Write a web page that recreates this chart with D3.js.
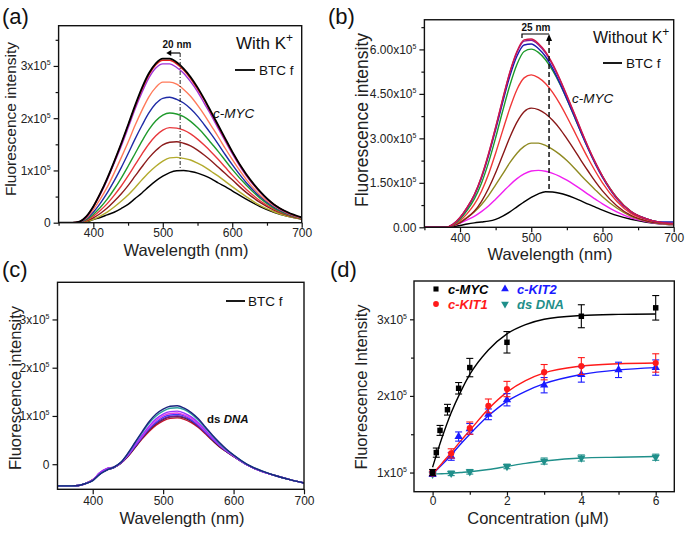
<!DOCTYPE html>
<html><head><meta charset="utf-8">
<script src="https://cdn.jsdelivr.net/npm/d3@7"></script>
<style>
body{margin:0;background:#fff;}
svg{display:block;font-family:Arial,"Liberation Sans",sans-serif;}
</style>
</head><body>
<svg id="c" width="685" height="534"></svg>
<script>
// ---------- DATA ----------
const wl = [350,370,380,390,400,410,420,430,440,450,460,470,480,490,500,510,520,530,540,550,560,570,580,590,600,620,640,660,680,700];

// Panel (a) with K+ (x1e5)
const aBlackTop = [0,0,0.02,0.12,0.31,0.56,0.85,1.17,1.51,1.87,2.24,2.58,2.86,3.05,3.14,3.14,3.07,2.95,2.79,2.59,2.36,2.11,1.86,1.61,1.36,0.93,0.60,0.35,0.20,0.10];
const aRed      = [0,0,0.02,0.12,0.31,0.56,0.84,1.16,1.50,1.86,2.22,2.55,2.83,3.02,3.11,3.11,3.04,2.92,2.76,2.56,2.34,2.09,1.84,1.59,1.35,0.92,0.59,0.35,0.19,0.10];
const aPurple   = [0,0,0.02,0.11,0.30,0.54,0.82,1.14,1.46,1.81,2.17,2.49,2.77,2.96,3.04,3.04,2.97,2.86,2.70,2.51,2.28,2.05,1.80,1.56,1.32,0.90,0.58,0.34,0.19,0.10];
const aCoral    = [0,0,0.015,0.09,0.25,0.45,0.68,0.95,1.24,1.54,1.86,2.15,2.41,2.59,2.69,2.69,2.65,2.55,2.42,2.25,2.06,1.85,1.64,1.42,1.21,0.83,0.53,0.32,0.18,0.09];
const aBlue     = [0,0,0.012,0.077,0.20,0.37,0.57,0.80,1.05,1.32,1.60,1.86,2.10,2.28,2.38,2.40,2.36,2.29,2.18,2.04,1.87,1.69,1.50,1.30,1.11,0.77,0.50,0.30,0.17,0.09];
const aGreen    = [0,0,0.009,0.059,0.157,0.29,0.45,0.64,0.85,1.08,1.32,1.56,1.78,1.95,2.06,2.10,2.08,2.03,1.94,1.82,1.68,1.52,1.36,1.19,1.02,0.72,0.47,0.28,0.16,0.08];
const aRed2     = [0,0,0.007,0.047,0.125,0.234,0.365,0.524,0.697,0.894,1.105,1.314,1.507,1.663,1.773,1.82,1.81,1.77,1.70,1.60,1.48,1.35,1.21,1.06,0.91,0.64,0.42,0.26,0.15,0.08];
const aBrown    = [0,0,0.005,0.035,0.094,0.177,0.28,0.41,0.55,0.71,0.89,1.07,1.24,1.38,1.49,1.54,1.55,1.52,1.47,1.39,1.29,1.18,1.06,0.94,0.82,0.58,0.39,0.24,0.14,0.07];
const aOlive    = [0,0,0.004,0.025,0.066,0.128,0.203,0.30,0.41,0.53,0.67,0.82,0.96,1.08,1.18,1.24,1.25,1.23,1.20,1.14,1.07,0.98,0.89,0.79,0.69,0.50,0.33,0.21,0.12,0.07];
const aBlackBase= [0,0,0.002,0.014,0.06,0.10,0.15,0.20,0.27,0.35,0.46,0.57,0.69,0.80,0.89,0.96,0.995,1.0,0.98,0.95,0.90,0.84,0.76,0.69,0.61,0.45,0.31,0.20,0.12,0.07];

// Panel (b) without K+ (x1e5)
const bCrimson = [0,0,0,0.10,0.33,0.67,1.10,1.70,2.48,3.38,4.34,5.24,5.94,6.32,6.35,6.20,5.92,5.51,5.01,4.45,3.87,3.28,2.71,2.19,1.73,1.00,0.53,0.30,0.17,0.12];
const bPurple  = [0,0,0,0.10,0.33,0.67,1.09,1.69,2.46,3.36,4.31,5.21,5.90,6.28,6.31,6.16,5.88,5.48,4.98,4.42,3.85,3.26,2.69,2.18,1.72,0.99,0.53,0.30,0.17,0.13];
const bBlue    = [0,0,0,0.10,0.32,0.65,1.07,1.65,2.41,3.29,4.22,5.10,5.78,6.15,6.18,6.03,5.76,5.36,4.87,4.33,3.77,3.19,2.64,2.13,1.68,0.97,0.52,0.30,0.18,0.18];
const bGreen   = [0,0,0,0.08,0.27,0.57,0.95,1.48,2.18,3.02,3.93,4.79,5.50,5.93,6.01,5.90,5.65,5.29,4.84,4.32,3.76,3.20,2.66,2.16,1.72,1.01,0.54,0.30,0.17,0.12];
const bRed     = [0,0,0,0.07,0.22,0.46,0.77,1.21,1.79,2.50,3.27,4.02,4.65,5.04,5.14,5.05,4.85,4.55,4.17,3.73,3.26,2.78,2.32,1.89,1.50,0.88,0.47,0.27,0.16,0.11];
const bBrown   = [0,0,0,0.05,0.15,0.32,0.54,0.87,1.31,1.84,2.44,3.04,3.55,3.90,4.02,3.97,3.83,3.61,3.33,2.99,2.63,2.25,1.89,1.54,1.23,0.73,0.40,0.23,0.14,0.10];
const bOlive   = [0,0,0,0.06,0.18,0.34,0.52,0.76,1.07,1.43,1.80,2.18,2.50,2.73,2.84,2.84,2.76,2.63,2.46,2.25,2.01,1.75,1.50,1.26,1.03,0.65,0.37,0.22,0.13,0.09];
const bMagenta = [0,0,0,0.05,0.14,0.25,0.37,0.53,0.72,0.95,1.19,1.43,1.64,1.80,1.90,1.92,1.89,1.82,1.72,1.59,1.44,1.28,1.11,0.95,0.79,0.52,0.32,0.20,0.12,0.09];
const bBlack   = [0,0,0,0.02,0.06,0.11,0.15,0.18,0.21,0.27,0.38,0.52,0.69,0.86,1.01,1.13,1.20,1.19,1.15,1.08,0.99,0.89,0.78,0.68,0.58,0.40,0.27,0.18,0.12,0.09];

// Panel (c) ds DNA (x1e5)
const cNavy    = [-0.45,-0.45,-0.44,-0.40,-0.34,-0.21,-0.12,-0.06,0.04,0.23,0.45,0.67,0.88,1.04,1.14,1.20,1.21,1.16,1.07,0.94,0.77,0.60,0.45,0.31,0.19,-0.01,-0.14,-0.24,-0.32,-0.39];
const cTeal    = [-0.45,-0.45,-0.44,-0.40,-0.34,-0.21,-0.12,-0.06,0.04,0.22,0.44,0.65,0.85,1.00,1.10,1.16,1.17,1.13,1.04,0.91,0.75,0.59,0.43,0.30,0.19,-0.01,-0.14,-0.24,-0.32,-0.39];
const cViolet  = [-0.45,-0.45,-0.44,-0.40,-0.33,-0.18,-0.09,-0.06,0.03,0.20,0.40,0.60,0.79,0.94,1.04,1.09,1.10,1.06,0.98,0.86,0.71,0.55,0.41,0.29,0.18,-0.02,-0.15,-0.24,-0.32,-0.39];
const cMagenta = [-0.45,-0.45,-0.44,-0.40,-0.33,-0.18,-0.09,-0.06,0.03,0.19,0.39,0.58,0.76,0.90,1.00,1.05,1.06,1.02,0.95,0.83,0.69,0.54,0.40,0.28,0.17,-0.02,-0.15,-0.24,-0.32,-0.39];
const cBlue    = [-0.45,-0.45,-0.44,-0.40,-0.33,-0.20,-0.12,-0.07,0.03,0.18,0.37,0.56,0.74,0.87,0.97,1.02,1.03,1.00,0.92,0.81,0.67,0.52,0.39,0.27,0.17,-0.02,-0.15,-0.24,-0.32,-0.39];
const cPurple  = [-0.45,-0.45,-0.44,-0.40,-0.33,-0.18,-0.09,-0.06,0.02,0.18,0.36,0.54,0.72,0.85,0.94,0.99,1.00,0.97,0.90,0.78,0.65,0.51,0.38,0.26,0.16,-0.02,-0.15,-0.24,-0.32,-0.39];
const cBlack   = [-0.45,-0.45,-0.44,-0.40,-0.33,-0.20,-0.12,-0.07,0.02,0.17,0.35,0.54,0.71,0.84,0.93,0.98,0.99,0.96,0.89,0.78,0.65,0.50,0.37,0.26,0.16,-0.02,-0.15,-0.24,-0.32,-0.39];
const cRed     = [-0.45,-0.45,-0.44,-0.40,-0.32,-0.20,-0.12,-0.07,0.02,0.16,0.34,0.52,0.68,0.81,0.90,0.95,0.96,0.93,0.86,0.76,0.63,0.49,0.36,0.26,0.16,-0.02,-0.15,-0.24,-0.32,-0.39];

// Panel (d) titration (x1e5)
const mycX = [0,0.1,0.2,0.4,0.7,1,2,4,6];
const mycY = [1.00,1.26,1.55,1.82,2.10,2.37,2.70,3.04,3.15];
const mycE = [0.04,0.06,0.065,0.07,0.075,0.12,0.14,0.15,0.16];
const kit1X = [0,0.5,1,1.5,2,3,4,6];
const kit1Y = [0.99,1.25,1.58,1.87,2.09,2.31,2.39,2.43];
const kit1E = [0.03,0.06,0.08,0.09,0.10,0.10,0.11,0.12];
const kit2X = [0,0.5,0.7,1,1.5,2,3,4,5,6];
const kit2Y = [0.98,1.21,1.47,1.57,1.76,1.95,2.14,2.28,2.34,2.37];
const kit2E = [0.03,0.05,0.06,0.07,0.07,0.08,0.10,0.10,0.10,0.10];
const dnaX = [0,0.5,1,2,3,4,6];
const dnaY = [0.98,0.99,1.01,1.08,1.15,1.19,1.20];
const dnaE = [0.03,0.03,0.03,0.03,0.04,0.04,0.04];
const fitX    = [0,0.25,0.5,0.75,1,1.5,2,2.5,3,4,5,6];
const fitMyc  = [1.07,1.45,1.78,2.05,2.28,2.60,2.81,2.93,3.00,3.05,3.065,3.07];
const fitKit1 = [0.98,1.12,1.26,1.41,1.55,1.83,2.05,2.20,2.30,2.39,2.42,2.43];
const fitKit2 = [0.98,1.10,1.23,1.37,1.50,1.74,1.93,2.06,2.16,2.28,2.34,2.37];
const fitDna  = [0.98,0.985,0.99,1.00,1.01,1.04,1.08,1.12,1.15,1.19,1.20,1.21];

// Tick values
const wlTicks = [400,500,600,700], wlMinor = [350,450,550,650];
const aYTicks = [0,1,2,3], aYMinor = [0.5,1.5,2.5,3.5];
const bYTicks = [0,1.5,3,4.5,6], bYMinor = [0.75,2.25,3.75,5.25,6.75];
const cYTicks = [0,1,2,3];
const dXTicks = [0,2,4,6], dXMinor = [1,3,5];
const dYTicks = [1,2,3], dYMinor = [1.5,2.5];

// ---------- DRAWING ----------
const svg = d3.select("#c");
const defs = svg.append("defs");

function panel(cfg){
  const x = d3.scaleLinear().domain(cfg.xd).range([cfg.l, cfg.r]);
  const y = d3.scaleLinear().domain(cfg.yd).range([cfg.b, cfg.t]);
  const g = svg.append("g");
  const ts = cfg.ts || 5, tp = cfg.tp == null ? 2 : cfg.tp;
  defs.append("clipPath").attr("id","clip"+cfg.name).append("rect")
    .attr("x",cfg.l).attr("y",cfg.t).attr("width",cfg.r-cfg.l).attr("height",cfg.b-cfg.t);
  const styleAxis = s => { s.select(".domain").remove(); s.selectAll("line").attr("stroke","#111").attr("stroke-width",1.2);
    s.selectAll("text").attr("font-size",12).attr("font-family","Arial, 'Liberation Sans', sans-serif").attr("fill","#222"); };
  const xa = g.append("g").attr("transform",`translate(0,${cfg.b})`)
    .call(d3.axisBottom(x).tickValues(cfg.xt).tickSize(ts).tickPadding(tp).tickFormat(d=>d));
  styleAxis(xa);
  if(cfg.xm){ const xm = g.append("g").attr("transform",`translate(0,${cfg.b})`)
    .call(d3.axisBottom(x).tickValues(cfg.xm).tickSize(3).tickFormat("")); styleAxis(xm); }
  const ya = g.append("g").attr("transform",`translate(${cfg.l},0)`)
    .call(d3.axisLeft(y).tickValues(cfg.yt).tickSize(ts).tickPadding(3));
  styleAxis(ya);
  ya.selectAll(".tick text").each(function(d){
    const t = d3.select(this); const m = cfg.yf(d); t.text(null);
    t.append("tspan").text(m[0]);
    if(m[1]) t.append("tspan").attr("dy",-5).attr("font-size",7).text(m[1]);
  });
  if(cfg.ym){ const ym = g.append("g").attr("transform",`translate(${cfg.l},0)`)
    .call(d3.axisLeft(y).tickValues(cfg.ym).tickSize(3).tickFormat("")); styleAxis(ym); }
  const plot = g.append("g").attr("clip-path",`url(#clip${cfg.name})`);
  g.append("rect").attr("x",cfg.l).attr("y",cfg.t).attr("width",cfg.r-cfg.l).attr("height",cfg.b-cfg.t)
    .attr("fill","none").attr("stroke","#111").attr("stroke-width",1.4);
  return {x,y,g,plot};
}

function drawSpectra(P, series){
  const line = d3.line().x((d,i)=>P.x(wl[i])).y(d=>P.y(d)).curve(d3.curveMonotoneX);
  series.forEach(s=>{
    P.plot.append("path").attr("d",line(s.v)).attr("fill","none")
      .attr("stroke",s.c).attr("stroke-width",s.w||1.4);
  });
}

function txt(g,x,y,str,o={}){
  const t = g.append("text").attr("x",x).attr("y",y).attr("font-size",o.fs||12)
    .attr("fill",o.fill||"#111").attr("text-anchor",o.anchor||"start");
  if(o.fw) t.attr("font-weight",o.fw);
  if(o.fst) t.attr("font-style",o.fst);
  if(o.rot) t.attr("transform",`rotate(${o.rot},${x},${y})`);
  t.text(str);
  return t;
}

const sciA = d => d===0 ? ["0",null] : [d+"x10","5"];
const sciB = d => d===0 ? ["0.00",null] : [d.toFixed(2)+"x10","5"];

// ---- Panel (a)
const A = panel({name:"a", l:58.6, r:301.7, t:25.7, b:222.7, xd:[350,700], yd:[0,3.77],
  xt:wlTicks, xm:wlMinor, yt:aYTicks, ym:aYMinor, yf:sciA, tp:1});
drawSpectra(A,[
  {v:aBlackBase,c:"#000"},{v:aOlive,c:"#b3ab2e"},{v:aBrown,c:"#8c1c1c"},{v:aRed2,c:"#e8383c"},
  {v:aGreen,c:"#1f9a2c"},{v:aBlue,c:"#1f2ba6"},{v:aCoral,c:"#ff7a5a"},{v:aPurple,c:"#a032d8"},
  {v:aRed,c:"#e3201c"},{v:aBlackTop,c:"#000",w:1.8}
]);
txt(svg,2,24,"(a)",{fs:22,fill:"#111"});
txt(svg,11,119,"Fluorescence intensity",{fs:15.5,anchor:"middle",rot:-90,fill:"#222"}).attr("dy","0.35em");
txt(svg,186,256,"Wavelength (nm)",{fs:16.5,anchor:"middle",fill:"#222"});
{ const t = txt(svg,236,49,"With K",{fs:17,fill:"#111"}); t.append("tspan").attr("dy",-7).attr("font-size",12).text("+"); }
svg.append("line").attr("x1",235).attr("x2",255).attr("y1",70).attr("y2",70).attr("stroke","#000").attr("stroke-width",1.8);
txt(svg,259,75,"BTC f",{fs:13.5});
txt(svg,213,118,"c-MYC",{fs:13.5,fst:"italic"});
txt(svg,177,48,"20 nm",{fs:10,fw:"bold",anchor:"middle"});
{ const xx = A.x(525), xl = A.x(505), yy = 53;
  svg.append("line").attr("x1",xx).attr("x2",xx).attr("y1",yy).attr("y2",A.y(1.0))
    .attr("stroke","#222").attr("stroke-width",1).attr("stroke-dasharray","4,2,1,2");
  svg.append("line").attr("x1",xx).attr("x2",xl+4).attr("y1",yy).attr("y2",yy).attr("stroke","#000").attr("stroke-width",1.2);
  svg.append("path").attr("d",`M${xl},${yy} l5,-3 l0,6 Z`).attr("fill","#000");
}

// ---- Panel (b)
const B = panel({name:"b", l:424.4, r:673.7, t:19.75, b:227.3, xd:[350,700], yd:[0,7],
  xt:wlTicks, xm:wlMinor, yt:bYTicks, ym:bYMinor, yf:sciB, tp:1});
drawSpectra(B,[
  {v:bBlack,c:"#000"},{v:bMagenta,c:"#f020f0"},{v:bOlive,c:"#8f8a22"},{v:bBrown,c:"#8a1818"},
  {v:bRed,c:"#f03838"},{v:bGreen,c:"#1c9a2a"},{v:bBlue,c:"#1a1ab0"},{v:bPurple,c:"#8a1a9a"},{v:bCrimson,c:"#d01848"}
]);
txt(svg,328,24,"(b)",{fs:22,fill:"#111"});
txt(svg,362,120,"Fluorescence intensity",{fs:17.5,anchor:"middle",rot:-90,fill:"#222"}).attr("dy","0.35em");
txt(svg,550,260,"Wavelength (nm)",{fs:16.5,anchor:"middle",fill:"#222"});
{ const t = txt(svg,593,43,"Without K",{fs:16,fill:"#111"}); t.append("tspan").attr("dy",-7).attr("font-size",12).text("+"); }
svg.append("line").attr("x1",603).attr("x2",622).attr("y1",63).attr("y2",63).attr("stroke","#000").attr("stroke-width",1.8);
txt(svg,626,68,"BTC f",{fs:13.5});
txt(svg,572,103,"c-MYC",{fs:13.5,fst:"italic"});
txt(svg,536,31,"25 nm",{fs:10,fw:"bold",anchor:"middle"});
{ const xx = B.x(525), xl = B.x(487), yy = 34;
  svg.append("path").attr("d",`M${xl},${yy+4} L${xl},${yy} L${xx},${yy}`).attr("fill","none").attr("stroke","#000").attr("stroke-width",1.2);
  svg.append("line").attr("x1",xx).attr("x2",xx).attr("y1",yy+6).attr("y2",B.y(1.2))
    .attr("stroke","#111").attr("stroke-width",1.5).attr("stroke-dasharray","5,3");
  svg.append("path").attr("d",`M${xx},${yy} l-3,7 l6,0 Z`).attr("fill","#000");
}

// ---- Panel (c)
const C = panel({name:"c", l:57.5, r:304, t:282.3, b:489.3, xd:[350,700], yd:[-0.52,3.77],
  xt:wlTicks, yt:cYTicks, yf:sciA});
drawSpectra(C,[
  {v:cRed,c:"#c8102e"},{v:cBlack,c:"#222"},{v:cPurple,c:"#7a1a8a"},{v:cBlue,c:"#3a3aff"},
  {v:cMagenta,c:"#e040e0"},{v:cViolet,c:"#9b30ff"},{v:cTeal,c:"#2a9d9d"},{v:cNavy,c:"#1a237e"}
]);
txt(svg,2,277,"(c)",{fs:22,fill:"#111"});
txt(svg,15,388,"Fluorescence intensity",{fs:16.5,anchor:"middle",rot:-90,fill:"#222"}).attr("dy","0.35em");
txt(svg,182,524,"Wavelength (nm)",{fs:16.5,anchor:"middle",fill:"#222"});
svg.append("line").attr("x1",226).attr("x2",245).attr("y1",301).attr("y2",301).attr("stroke","#000").attr("stroke-width",1.8);
txt(svg,248,306,"BTC f",{fs:13.5});
{ const t = txt(svg,207,423,"ds ",{fs:11.5,fw:"bold"}); t.append("tspan").attr("font-style","italic").text("DNA"); }

// ---- Panel (d)
const D = panel({name:"d", l:414, r:674.3, t:281, b:491.7, xd:[-0.5,6.5], yd:[0.75,3.5],
  xt:dXTicks, xm:dXMinor, yt:dYTicks, ym:dYMinor, yf:sciA, ts:4, tp:1});
txt(svg,330,277,"(d)",{fs:22,fill:"#111"});
txt(svg,361,387,"Fluorescence Intensity",{fs:16.5,anchor:"middle",rot:-90,fill:"#222"}).attr("dy","0.35em");
{ const t = txt(svg,538,524,"Concentration (",{fs:16.5,anchor:"middle",fill:"#222"}); t.append("tspan").text("\u03bcM)"); }

const fitLine = d3.line().x((d,i)=>D.x(fitX[i])).y(d=>D.y(d)).curve(d3.curveMonotoneX);
const dSeries = [
  {x:dnaX,y:dnaY,e:dnaE,fit:fitDna,c:"#1f8f8a",sym:d3.symbolTriangle,rot:180,size:30},
  {x:kit2X,y:kit2Y,e:kit2E,fit:fitKit2,c:"#1a1aff",sym:d3.symbolTriangle,rot:0,size:30},
  {x:kit1X,y:kit1Y,e:kit1E,fit:fitKit1,c:"#ff1a1a",sym:d3.symbolCircle,rot:0,size:30},
  {x:mycX,y:mycY,e:mycE,fit:fitMyc,c:"#000",sym:d3.symbolSquare,rot:0,size:30}
];
dSeries.forEach(s=>{
  D.plot.append("path").attr("d",fitLine(s.fit)).attr("fill","none").attr("stroke",s.c).attr("stroke-width",1.4);
});
dSeries.forEach(s=>{
  const gg = D.g.append("g");
  s.x.forEach((xv,i)=>{
    const px = D.x(xv), y1 = D.y(s.y[i]-s.e[i]), y2 = D.y(s.y[i]+s.e[i]);
    gg.append("line").attr("x1",px).attr("x2",px).attr("y1",y1).attr("y2",y2).attr("stroke",s.c).attr("stroke-width",1.1);
    gg.append("line").attr("x1",px-3.5).attr("x2",px+3.5).attr("y1",y1).attr("y2",y1).attr("stroke",s.c).attr("stroke-width",1.1);
    gg.append("line").attr("x1",px-3.5).attr("x2",px+3.5).attr("y1",y2).attr("y2",y2).attr("stroke",s.c).attr("stroke-width",1.1);
    gg.append("path").attr("d",d3.symbol().type(s.sym).size(s.size)())
      .attr("transform",`translate(${px},${D.y(s.y[i])}) rotate(${s.rot})`).attr("fill",s.c);
  });
});
// legend (d)
const leg = [
  {x:436,y:289,sym:d3.symbolSquare,rot:0,c:"#000",t:"c-MYC"},
  {x:505,y:289,sym:d3.symbolTriangle,rot:0,c:"#1a1aff",t:"c-KIT2"},
  {x:436,y:304,sym:d3.symbolCircle,rot:0,c:"#ff1a1a",t:"c-KIT1"},
  {x:505,y:304,sym:d3.symbolTriangle,rot:180,c:"#1f8f8a",t:"ds DNA"}
];
leg.forEach(l=>{
  svg.append("path").attr("d",d3.symbol().type(l.sym).size(26)()).attr("transform",`translate(${l.x},${l.y}) rotate(${l.rot})`).attr("fill",l.c);
  txt(svg,l.x+12,l.y+4.5,l.t,{fs:13,fw:"bold",fst:"italic",fill:l.c});
});
</script>
</body></html>
